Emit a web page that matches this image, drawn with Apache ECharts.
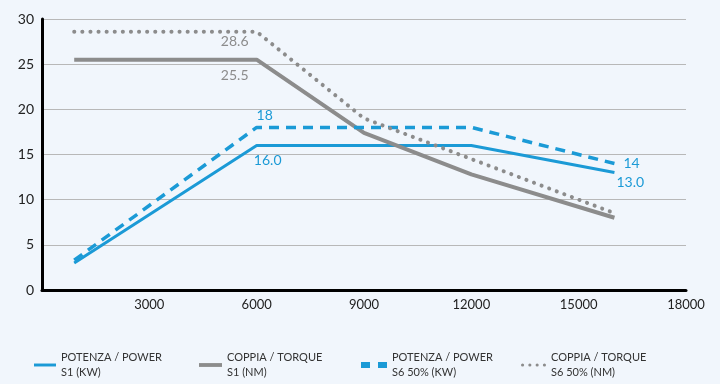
<!DOCTYPE html>
<html><head><meta charset="utf-8">
<script src="https://cdn.jsdelivr.net/npm/echarts@6/dist/echarts.min.js"></script>
<style>html,body{margin:0;padding:0;background:#f1f6fc;}#c{width:720px;height:384px;}</style>
</head><body><div id="c"></div>
<script>
const powerS1 = [[900,3.0],[6000,16],[12000,16],[16000,13]];
const torqueS1 = [[900,25.5],[6000,25.5],[9000,17.4],[12000,12.8],[16000,8.0]];
const powerS6 = [[900,3.3],[6000,18],[12000,18],[16000,14]];
const torqueS6 = [[900,28.6],[6000,28.6],[9000,19.0],[16000,8.5]];
const seriesNames = ['POTENZA / POWER\nS1 (KW)','COPPIA / TORQUE\nS1 (NM)','POTENZA / POWER\nS6 50% (KW)','COPPIA / TORQUE\nS6 50% (NM)'];
const xTicks = [0,3000,6000,9000,12000,15000,18000];
const yTicks = [0,5,10,15,20,25,30];

const blue = '#1b9ad6', gray = '#8c8c8c';
function lab(d, text, pos, off){ return {value:d, label:{show:true, formatter:text, position:pos, offset:off}}; }
const chart = echarts.init(document.getElementById('c'));
const font = 'Lato';
const legendText = {color:'#333', fontSize:11, fontFamily:font, lineHeight:15};
const icons = [
  'path://M0,0h30v4h-30z',
  'path://M0,0h30v5h-30z',
  'path://M0,0h9v6h-9z M17,0h9v6h-9z',
  'path://M0,1.5a1.5,1.5 0 1,0 3,0a1.5,1.5 0 1,0 -3,0z M7,1.5a1.5,1.5 0 1,0 3,0a1.5,1.5 0 1,0 -3,0z M14,1.5a1.5,1.5 0 1,0 3,0a1.5,1.5 0 1,0 -3,0z M21,1.5a1.5,1.5 0 1,0 3,0a1.5,1.5 0 1,0 -3,0z'
];
const iconSizes = [[22,4],[23,5],[26,6],[25,3.5]];
const legendLeft = [29,194,356,516];
chart.setOption({
  backgroundColor:'#f1f6fc',
  animation:false,
  grid:{left:42, right:34, top:19, bottom:94},
  xAxis:{type:'value', min:0, max:18000, interval:3000,
    axisLine:{lineStyle:{color:'#000', width:3}},
    axisTick:{show:false}, splitLine:{show:false},
    axisLabel:{color:'#222', fontSize:13, fontFamily:font, margin:8, formatter:v=>v===0?'':String(v)}},
  yAxis:{type:'value', min:0, max:30, interval:5,
    axisLine:{show:true, lineStyle:{color:'#000', width:3}},
    axisTick:{show:false},
    splitLine:{lineStyle:{color:'#b8b8b8', width:1}},
    axisLabel:{color:'#222', fontSize:14, fontFamily:font, margin:8}},
  legend: seriesNames.map((n,i)=>({top:345, left:legendLeft[i], itemGap:0, itemWidth:iconSizes[i][0], itemHeight:iconSizes[i][1],
    icon:icons[i], textStyle:legendText, data:[n]})),
  series:[
    {name:seriesNames[0], type:'line', symbol:'circle', symbolSize:0, lineStyle:{color:blue, width:3}, itemStyle:{color:blue},
     label:{color:blue, fontSize:14, fontFamily:font},
     data:powerS1.map((d,i)=> i===1 ? lab(d,'16.0','bottom',[11,3]) : i===3 ? lab(d,'13.0','right',[-3,10]) : d)},
    {name:seriesNames[1], type:'line', symbol:'circle', symbolSize:0, lineStyle:{color:gray, width:4}, itemStyle:{color:gray},
     label:{color:gray, fontSize:14, fontFamily:font},
     data:torqueS1.map((d,i)=> i===1 ? lab(d,'25.5','bottom',[-22,4]) : d)},
    {name:seriesNames[2], type:'line', symbol:'circle', symbolSize:0, lineStyle:{color:blue, width:3.5, type:[10,7]}, itemStyle:{color:blue},
     label:{color:blue, fontSize:14, fontFamily:font},
     data:powerS6.map((d,i)=> i===1 ? lab(d,'18','top',[8,0]) : i===3 ? lab(d,'14','right',[4,0]) : d)},
    {name:seriesNames[3], type:'line', symbol:'circle', symbolSize:0, lineStyle:{color:gray, width:4, type:[0.1,8], cap:'round'}, itemStyle:{color:gray},
     label:{color:gray, fontSize:14, fontFamily:font},
     data:torqueS6.map((d,i)=> i===1 ? lab(d,'28.6','bottom',[-22,-2]) : d)}
  ]
});
</script></body></html>
